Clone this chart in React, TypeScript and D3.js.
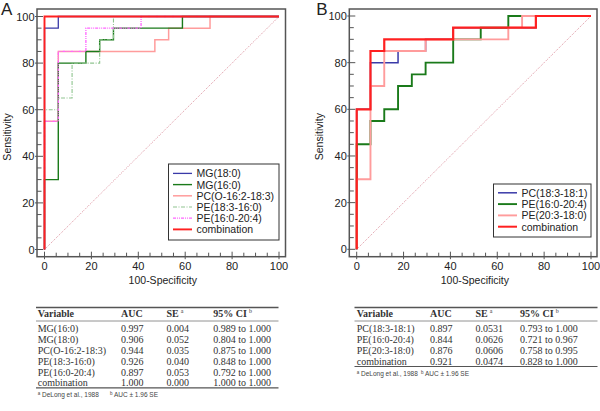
import React from 'react';
import * as d3 from 'd3';

// ---------- DATA ----------
const axisTicks = [0, 20, 40, 60, 80, 100];
const minorTicks = d3.range(0, 101, 5);

// Panel A ROC curves: [100-Specificity, Sensitivity]
const aMG180: [number, number][] = [[0, 0], [0, 95], [5.88, 95], [5.88, 100], [100, 100]];
const aMG160: [number, number][] = [[0, 0], [0, 30], [5.88, 30], [5.88, 80], [17.65, 80], [17.65, 85], [23.53, 85], [23.53, 90], [29.41, 90], [29.41, 95], [58.82, 95], [58.82, 100], [100, 100]];
const aPC: [number, number][] = [[0, 0], [0, 55], [5.88, 55], [5.88, 85], [47.06, 85], [47.06, 90], [52.94, 90], [52.94, 95], [70.59, 95], [70.59, 100], [100, 100]];
const aPE1816: [number, number][] = [[0, 0], [0, 60], [5.88, 60], [5.88, 65], [11.76, 65], [11.76, 80], [23.53, 80], [23.53, 90], [29.41, 90], [29.41, 100], [100, 100]];
const aPE1620: [number, number][] = [[0, 0], [0, 55], [5.88, 55], [5.88, 85], [17.65, 85], [17.65, 95], [41.18, 95], [41.18, 100], [100, 100]];
const aComb: [number, number][] = [[0, 0], [0, 100], [100, 100]];

// Panel B ROC curves
const bPC: [number, number][] = [[0, 0], [0, 60], [5.88, 60], [5.88, 80], [17.65, 80], [17.65, 85], [29.41, 85], [29.41, 90], [41.18, 90], [41.18, 95], [76.47, 95], [76.47, 100], [100, 100]];
const bPE1620: [number, number][] = [[0, 0], [0, 45], [5.88, 45], [5.88, 55], [11.76, 55], [11.76, 60], [17.65, 60], [17.65, 70], [23.53, 70], [23.53, 75], [29.41, 75], [29.41, 80], [41.18, 80], [41.18, 90], [52.94, 90], [52.94, 95], [64.71, 95], [64.71, 100], [100, 100]];
const bPE2018: [number, number][] = [[0, 0], [0, 30], [5.88, 30], [5.88, 70], [11.76, 70], [11.76, 85], [29.41, 85], [29.41, 90], [64.71, 90], [64.71, 95], [70.59, 95], [70.59, 100], [100, 100]];
const bComb: [number, number][] = [[0, 0], [0, 60], [5.88, 60], [5.88, 85], [11.76, 85], [11.76, 90], [41.18, 90], [41.18, 95], [76.47, 95], [76.47, 100], [100, 100]];

const legendA = ['MG(18:0)', 'MG(16:0)', 'PC(O-16:2-18:3)', 'PE(18:3-16:0)', 'PE(16:0-20:4)', 'combination'];
const legendB = ['PC(18:3-18:1)', 'PE(16:0-20:4)', 'PE(20:3-18:0)', 'combination'];

// Tables
const tableHeaders = ['Variable', 'AUC', 'SE', '95% CI'];
const tableAVar = ['MG(16:0)', 'MG(18:0)', 'PC(O-16:2-18:3)', 'PE(18:3-16:0)', 'PE(16:0-20:4)', 'combination'];
const tableAAUC = ['0.997', '0.906', '0.944', '0.926', '0.897', '1.000'];
const tableASE = ['0.004', '0.052', '0.035', '0.040', '0.053', '0.000'];
const tableACI = ['0.989 to 1.000', '0.804 to 1.000', '0.875 to 1.000', '0.848 to 1.000', '0.792 to 1.000', '1.000 to 1.000'];
const tableBVar = ['PC(18:3-18:1)', 'PE(16:0-20:4)', 'PE(20:3-18:0)', 'combination'];
const tableBAUC = ['0.897', '0.844', '0.876', '0.921'];
const tableBSE = ['0.0531', '0.0626', '0.0606', '0.0474'];
const tableBCI = ['0.793 to 1.000', '0.721 to 0.967', '0.758 to 0.995', '0.828 to 1.000'];

// ---------- STYLES ----------
const SANS = '"Liberation Sans", Arial, Helvetica, sans-serif';
const SERIF = '"Liberation Serif", "Times New Roman", serif';

type Style = { color: string; width: number; dash?: string };
const stylesA: Style[] = [
  { color: '#3a3aa8', width: 1.3 },
  { color: '#1a7a1a', width: 1.4 },
  { color: '#ff9c9c', width: 1.5 },
  { color: '#8fc48f', width: 1.1, dash: '4,1.5,1,1.5' },
  { color: '#ff66ff', width: 1.3, dash: '3,1,1,1,1,1' },
  { color: '#ff2020', width: 1.9 },
];
const seriesA = [aMG180, aMG160, aPC, aPE1816, aPE1620, aComb];
const drawOrderA = [2, 1, 3, 4, 0, 5];

const stylesB: Style[] = [
  { color: '#3a3aa8', width: 1.5 },
  { color: '#1a7a1a', width: 1.9 },
  { color: '#ff9c9c', width: 1.9 },
  { color: '#ff2020', width: 2.2 },
];
const seriesB = [bPC, bPE1620, bPE2018, bComb];
const drawOrderB = [0, 1, 2, 3];

type PanelCfg = {
  label: string;
  frame: { l: number; r: number; t: number; b: number };
  x0: number; x100: number; y0: number; y100: number;
  legend: { x: number; y: number; w: number; h: number; row0: number; rowH: number };
};

const panelA: PanelCfg = {
  label: 'A',
  frame: { l: 37, r: 285.5, t: 9, b: 256.7 },
  x0: 44.5, x100: 279, y0: 249.5, y100: 16.5,
  legend: { x: 168.5, y: 164, w: 110.5, h: 76, row0: 173.4, rowH: 11.2 },
};
const panelB: PanelCfg = {
  label: 'B',
  frame: { l: 349.3, r: 597, t: 9, b: 256.7 },
  x0: 356.7, x100: 591, y0: 249.3, y100: 16,
  legend: { x: 493.5, y: 184, w: 97.5, h: 53, row0: 192.8, rowH: 11.3 },
};

function Panel({ cfg, series, styles, order, names }: { cfg: PanelCfg; series: [number, number][][]; styles: Style[]; order: number[]; names: string[] }) {
  const x = d3.scaleLinear().domain([0, 100]).range([cfg.x0, cfg.x100]);
  const y = d3.scaleLinear().domain([0, 100]).range([cfg.y0, cfg.y100]);
  const line = d3.line<[number, number]>().x((d) => x(d[0])).y((d) => y(d[1]));
  const f = cfg.frame;
  const axisCol = '#555';
  const lg = cfg.legend;
  const isA = cfg.label === 'A';
  return (
    <g>
      <text x={isA ? 1 : f.l - 33} y={15} fontFamily={SANS} fontSize={17} fill="#222">{cfg.label}</text>
      {/* diagonal */}
      <path d={line([[0, 0], [100, 100]]) || ''} stroke="#d07080" strokeWidth={0.8} strokeDasharray="1,1.3" fill="none" />
      {order.map((i) => (
        <path key={i} d={line(series[i]) || ''} fill="none" stroke={styles[i].color} strokeWidth={styles[i].width} strokeDasharray={styles[i].dash} />
      ))}
      {/* frame */}
      <rect x={f.l} y={f.t} width={f.r - f.l} height={f.b - f.t} fill="none" stroke={axisCol} strokeWidth={1.5} />
      {/* y ticks */}
      {minorTicks.map((t) => {
        const major = t % 20 === 0;
        return <line key={'y' + t} x1={major ? f.l - 2 : f.l} x2={major ? f.l + 6 : f.l + 4.5} y1={y(t)} y2={y(t)} stroke={axisCol} strokeWidth={1} />;
      })}
      {axisTicks.map((t) => (
        <text key={'yl' + t} x={f.l - 2.5} y={y(t) + 4} textAnchor="end" fontFamily={SANS} fontSize={11} fill="#222">{t}</text>
      ))}
      {/* x ticks */}
      {minorTicks.map((t) => {
        const major = t % 20 === 0;
        return <line key={'x' + t} x1={x(t)} x2={x(t)} y1={major ? f.b - 5 : f.b - 4} y2={major ? f.b + 2.5 : f.b} stroke={axisCol} strokeWidth={1} />;
      })}
      {axisTicks.map((t) => (
        <text key={'xl' + t} x={x(t)} y={269.8} textAnchor="middle" fontFamily={SANS} fontSize={11} fill="#222">{t}</text>
      ))}
      <text x={(cfg.x0 + cfg.x100) / 2 + 1} y={284} textAnchor="middle" fontFamily={SANS} fontSize={10.5} fill="#222">100-Specificity</text>
      <text transform={`translate(${f.l - 26},${(cfg.y0 + cfg.y100) / 2 + 4}) rotate(-90)`} textAnchor="middle" fontFamily={SANS} fontSize={10.5} fill="#222">Sensitivity</text>
      {/* legend */}
      <rect x={lg.x} y={lg.y} width={lg.w} height={lg.h} fill="#fff" stroke="#333" strokeWidth={1} />
      {names.map((n, i) => (
        <g key={n}>
          <line x1={lg.x + 4.5} x2={lg.x + 23.5} y1={lg.row0 + i * lg.rowH} y2={lg.row0 + i * lg.rowH} stroke={styles[i].color} strokeWidth={Math.min(styles[i].width, 2)} strokeDasharray={styles[i].dash} />
          <text x={lg.x + 28} y={lg.row0 + i * lg.rowH + 4} fontFamily={SANS} fontSize={10.5} fill="#222">{n}</text>
        </g>
      ))}
    </g>
  );
}

type TableCfg = { x0: number; x1: number; cols: number[]; top: number; hdr: number; row0: number; rowH: number; foot2x: number };

function Table({ cfg, vars, auc, se, ci }: { cfg: TableCfg; vars: string[]; auc: string[]; se: string[]; ci: string[] }) {
  const n = vars.length;
  const rows = d3.range(n);
  const yRow = (i: number) => cfg.row0 + i * cfg.rowH;
  const bottom = yRow(n - 1) + 5;
  const foot = bottom + 9;
  return (
    <g fontFamily={SERIF} fill="#333">
      <line x1={cfg.x0} x2={cfg.x1} y1={cfg.top} y2={cfg.top} stroke="#555" strokeWidth={1.3} />
      <line x1={cfg.x0} x2={cfg.x1} y1={cfg.hdr + 7.3} y2={cfg.hdr + 7.3} stroke="#777" strokeWidth={0.8} />
      <line x1={cfg.x0} x2={cfg.x1} y1={bottom} y2={bottom} stroke="#555" strokeWidth={1.1} />
      {tableHeaders.map((h, j) => (
        <text key={h} x={cfg.cols[j]} y={cfg.hdr + 3.5} fontSize={10} fontWeight="bold">
          {h}
          {j === 2 ? <tspan dx={2} dy={-4} fontSize={6} fontWeight="normal">a</tspan> : null}
          {j === 3 ? <tspan dx={2} dy={-4} fontSize={6} fontWeight="normal">b</tspan> : null}
        </text>
      ))}
      {rows.map((i) => (
        <g key={i} fontSize={10}>
          <text x={cfg.cols[0]} y={yRow(i) + 3.5}>{vars[i]}</text>
          <text x={cfg.cols[1]} y={yRow(i) + 3.5}>{auc[i]}</text>
          <text x={cfg.cols[2]} y={yRow(i) + 3.5}>{se[i]}</text>
          <text x={cfg.cols[3]} y={yRow(i) + 3.5}>{ci[i]}</text>
        </g>
      ))}
      <text x={cfg.cols[0]} y={foot} fontFamily={SANS} fontSize={6.5} fill="#444">
        <tspan fontSize={4.5} dy={-2}>a</tspan><tspan dy={2}> DeLong et al., 1988</tspan>
      </text>
      <text x={cfg.foot2x} y={foot} fontFamily={SANS} fontSize={6.5} fill="#444">
        <tspan fontSize={4.5} dy={-2}>b</tspan><tspan dy={2}> AUC ± 1.96 SE</tspan>
      </text>
    </g>
  );
}

const tableACfg: TableCfg = { x0: 36, x1: 278.5, cols: [37.7, 121, 166.5, 213.3], top: 307.5, hdr: 313.7, row0: 328.6, rowH: 10.85, foot2x: 110 };
const tableBCfg: TableCfg = { x0: 354.5, x1: 597.5, cols: [356.7, 430, 475.5, 520], top: 307.5, hdr: 313.7, row0: 328.5, rowH: 11, foot2x: 421 };

export default function App() {
  return (
    <svg width={600} height={411} style={{ position: 'absolute', left: 0, top: 0, background: '#fff' }}>
      <rect width={600} height={411} fill="#fff" />
      <Panel cfg={panelA} series={seriesA} styles={stylesA} order={drawOrderA} names={legendA} />
      <Panel cfg={panelB} series={seriesB} styles={stylesB} order={drawOrderB} names={legendB} />
      <Table cfg={tableACfg} vars={tableAVar} auc={tableAAUC} se={tableASE} ci={tableACI} />
      <Table cfg={tableBCfg} vars={tableBVar} auc={tableBAUC} se={tableBSE} ci={tableBCI} />
    </svg>
  );
}
